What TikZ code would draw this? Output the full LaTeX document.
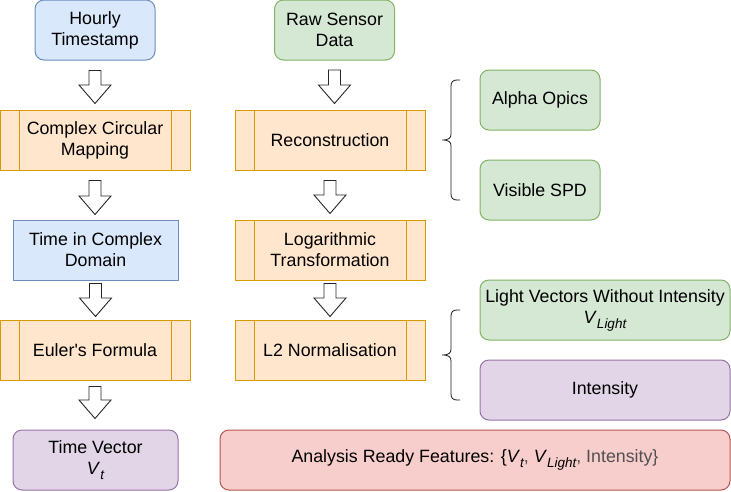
\documentclass[tikz,border=0pt]{standalone}
\usepackage{fontspec}
\setmainfont{Liberation Sans}
\newfontfamily\rawfont{Liberation Sans}
\usetikzlibrary{calc}
\definecolor{bluefill}{HTML}{DAE8FC}
\definecolor{bluedraw}{HTML}{6C8EBF}
\definecolor{greenfill}{HTML}{D5E8D4}
\definecolor{greendraw}{HTML}{82B366}
\definecolor{orangefill}{HTML}{FFE6CC}
\definecolor{orangedraw}{HTML}{D79B00}
\definecolor{purplefill}{HTML}{E1D5E7}
\definecolor{purpledraw}{HTML}{9673A6}
\definecolor{redfill}{HTML}{F8CECC}
\definecolor{reddraw}{HTML}{B85450}
\definecolor{graytext}{HTML}{505050}
\newcommand\vsub[1]{\textit{V}\raisebox{-0.28em}{\fontsize{13.5}{13.5}\selectfont\itshape #1}}
\newcommand\flexarrow[2]{\draw[blockarrow] let \p1=(#1), \p2=(#2) in
  (\x1-6pt,\y1) -- (\x1+6pt,\y1) -- (\x1+6pt,\y2+18.5pt) -- (\x1+16pt,\y2+18.5pt)
  -- (\x1,\y2) -- (\x1-16pt,\y2+18.5pt) -- (\x1-6pt,\y2+18.5pt) -- cycle;}
\begin{document}
\begin{tikzpicture}[x=1pt,y=-1pt,
  base/.style={inner sep=0pt, minimum height=60pt, align=center, line width=1pt,
    font=\fontsize{17.8}{21}\selectfont, text=black},
  bluebox/.style={base, draw=bluedraw, fill=bluefill},
  bluerbox/.style={bluebox, rounded corners=9pt},
  greenbox/.style={base, draw=greendraw, fill=greenfill, rounded corners=9pt},
  purplebox/.style={base, draw=purpledraw, fill=purplefill, rounded corners=9pt},
  redbox/.style={base, draw=reddraw, fill=redfill, rounded corners=9pt},
  procbox/.style={base, draw=orangedraw, fill=orangefill,
    path picture={
      \draw[orangedraw, line width=1pt]
        ([xshift=19pt]path picture bounding box.north west) -- ([xshift=19pt]path picture bounding box.south west)
        ([xshift=-19pt]path picture bounding box.north east) -- ([xshift=-19pt]path picture bounding box.south east);
    }},
  blockarrow/.style={draw=black!85, fill=white, line width=0.9pt, line join=miter},
  bracestyle/.style={draw=black!90, line width=0.8pt}]
\useasboundingbox (0,0) rectangle (731,491);

% left column
\node[bluerbox, minimum width=120pt] (hts) at (95,30) {Hourly\\Timestamp};
\node[procbox, minimum width=190pt] (ccm) at (95,140) {Complex Circular\\Mapping};
\node[bluebox, minimum width=165pt] (tcd) at (95.5,250) {Time in Complex\\Domain};
\node[procbox, minimum width=190pt] (euler) at (95,350) {Euler{\rawfont'}s Formula};
\node[purplebox, minimum width=165pt] (tv) at (95.5,460) {Time Vector\\\vsub{t}};

% middle column
\node[greenbox, minimum width=120pt] (raw) at (334.5,30) {Raw Sensor\\Data};
\node[procbox, minimum width=190pt] (rec) at (330,140) {Reconstruction};
\node[procbox, minimum width=190pt] (log) at (330,250) {Logarithmic\\Transformation};
\node[procbox, minimum width=190pt] (l2) at (330,350) {L2 Normalisation};

% right column
\node[greenbox, minimum width=120pt] (alpha) at (540,100) {Alpha Opics};
\node[greenbox, minimum width=120pt] (vis) at (540,190) {Visible SPD};
\node[greenbox, minimum width=250pt] (lv) at (605,310) {Light Vectors Without Intensity\\\vsub{Light}};
\node[purplebox, minimum width=250pt] (int) at (605,390) {Intensity};

% bottom
\node[redbox, minimum width=510pt] (arf) at (475,460)
  {Analysis Ready Features: \{\vsub{t}\textcolor{graytext}{,} \vsub{Light}\textcolor{graytext}{, Intensity\}}};

% block arrows
\flexarrow{[yshift=-10pt]hts.south}{[yshift=6pt]ccm.north}
\flexarrow{[yshift=-10pt]ccm.south}{[yshift=5pt]tcd.north}
\flexarrow{[yshift=-3pt]tcd.south}{[yshift=3pt]euler.north}
\flexarrow{[yshift=-6pt]euler.south}{[yshift=11pt]tv.north}
\flexarrow{[yshift=-9.5pt]raw.south}{[yshift=6pt]rec.north}
\flexarrow{[yshift=-10pt]rec.south}{[yshift=6pt]log.north}
\flexarrow{[yshift=-3pt]log.south}{[yshift=3pt]l2.north}

% braces
\draw[bracestyle] (460,80) -- (457,80) .. controls (453,80) and (451,82) .. (451,86)
  -- (451,134) .. controls (451,138) and (449,140) .. (442,140)
  .. controls (449,140) and (451,142) .. (451,146)
  -- (451,194) .. controls (451,198) and (453,200) .. (457,200) -- (460,200);
\draw[bracestyle] (460,310) -- (457,310) .. controls (453,310) and (451,312) .. (451,316)
  -- (451,349) .. controls (451,353) and (449,355) .. (442,355)
  .. controls (449,355) and (451,357) .. (451,361)
  -- (451,394) .. controls (451,398) and (453,400) .. (457,400) -- (460,400);
\end{tikzpicture}
\end{document}
